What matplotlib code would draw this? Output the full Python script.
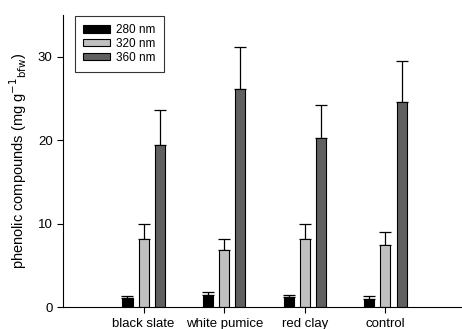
import numpy as np
import matplotlib.pyplot as plt

plt.rcParams['font.family'] = ['Liberation Sans', 'DejaVu Sans']

categories = ['black slate', 'white pumice', 'red clay', 'control']
series = ['280 nm', '320 nm', '360 nm']
vals_280 = [1.1, 1.43, 1.15, 1.0]
err_280 = [0.25, 0.37, 0.28, 0.27]
vals_320 = [8.2, 6.8, 8.2, 7.4]
err_320 = [1.8, 1.3, 1.76, 1.57]
vals_360 = [19.4, 26.1, 20.2, 24.6]
err_360 = [4.2, 5.1, 4.0, 4.9]
colors = ['#000000', '#c0c0c0', '#606060']

fig = plt.figure(figsize=(4.62, 3.29), dpi=100)
ax = fig.add_axes([63 / 462, 22 / 329, 399 / 462, 292 / 329])

x = np.arange(1, len(categories) + 1)
width = 0.125
offsets = [-0.2, 0, 0.2]
for vals, errs, off, col, lab in zip([vals_280, vals_320, vals_360],
                                     [err_280, err_320, err_360],
                                     offsets, colors, series):
    ax.bar(x + off, vals, width, color=col, edgecolor='black', linewidth=0.8,
           label=lab, zorder=2)
    ax.errorbar(x + off, vals, yerr=[np.zeros(len(errs)), errs], fmt='none',
                ecolor='black', elinewidth=0.9, capsize=4, capthick=0.9, zorder=1)

ax.set_xlim(0, 4.95)
ax.set_ylim(0, 35)
ax.set_yticks([0, 10, 20, 30])
ax.set_xticks(x)
ax.set_xticklabels(categories)
ax.tick_params(direction='out', length=4, labelsize=9.5, width=0.8)
ax.tick_params(axis='x', pad=4)
ax.spines['top'].set_visible(False)
ax.spines['right'].set_visible(False)
ax.set_ylabel('phenolic compounds (mg g$^{-1}$$_{\\rm bfw}$)', fontsize=10.5,
              labelpad=6)

leg = ax.legend(loc='upper left', bbox_to_anchor=(0.03, 0.997), fontsize=8.5,
                frameon=True, fancybox=False, edgecolor='black',
                handlelength=2.3, handleheight=0.6, borderpad=0.7,
                labelspacing=0.15, handletextpad=0.5, borderaxespad=0)
leg.get_frame().set_linewidth(0.8)

fig.savefig('out.png', dpi=100)
